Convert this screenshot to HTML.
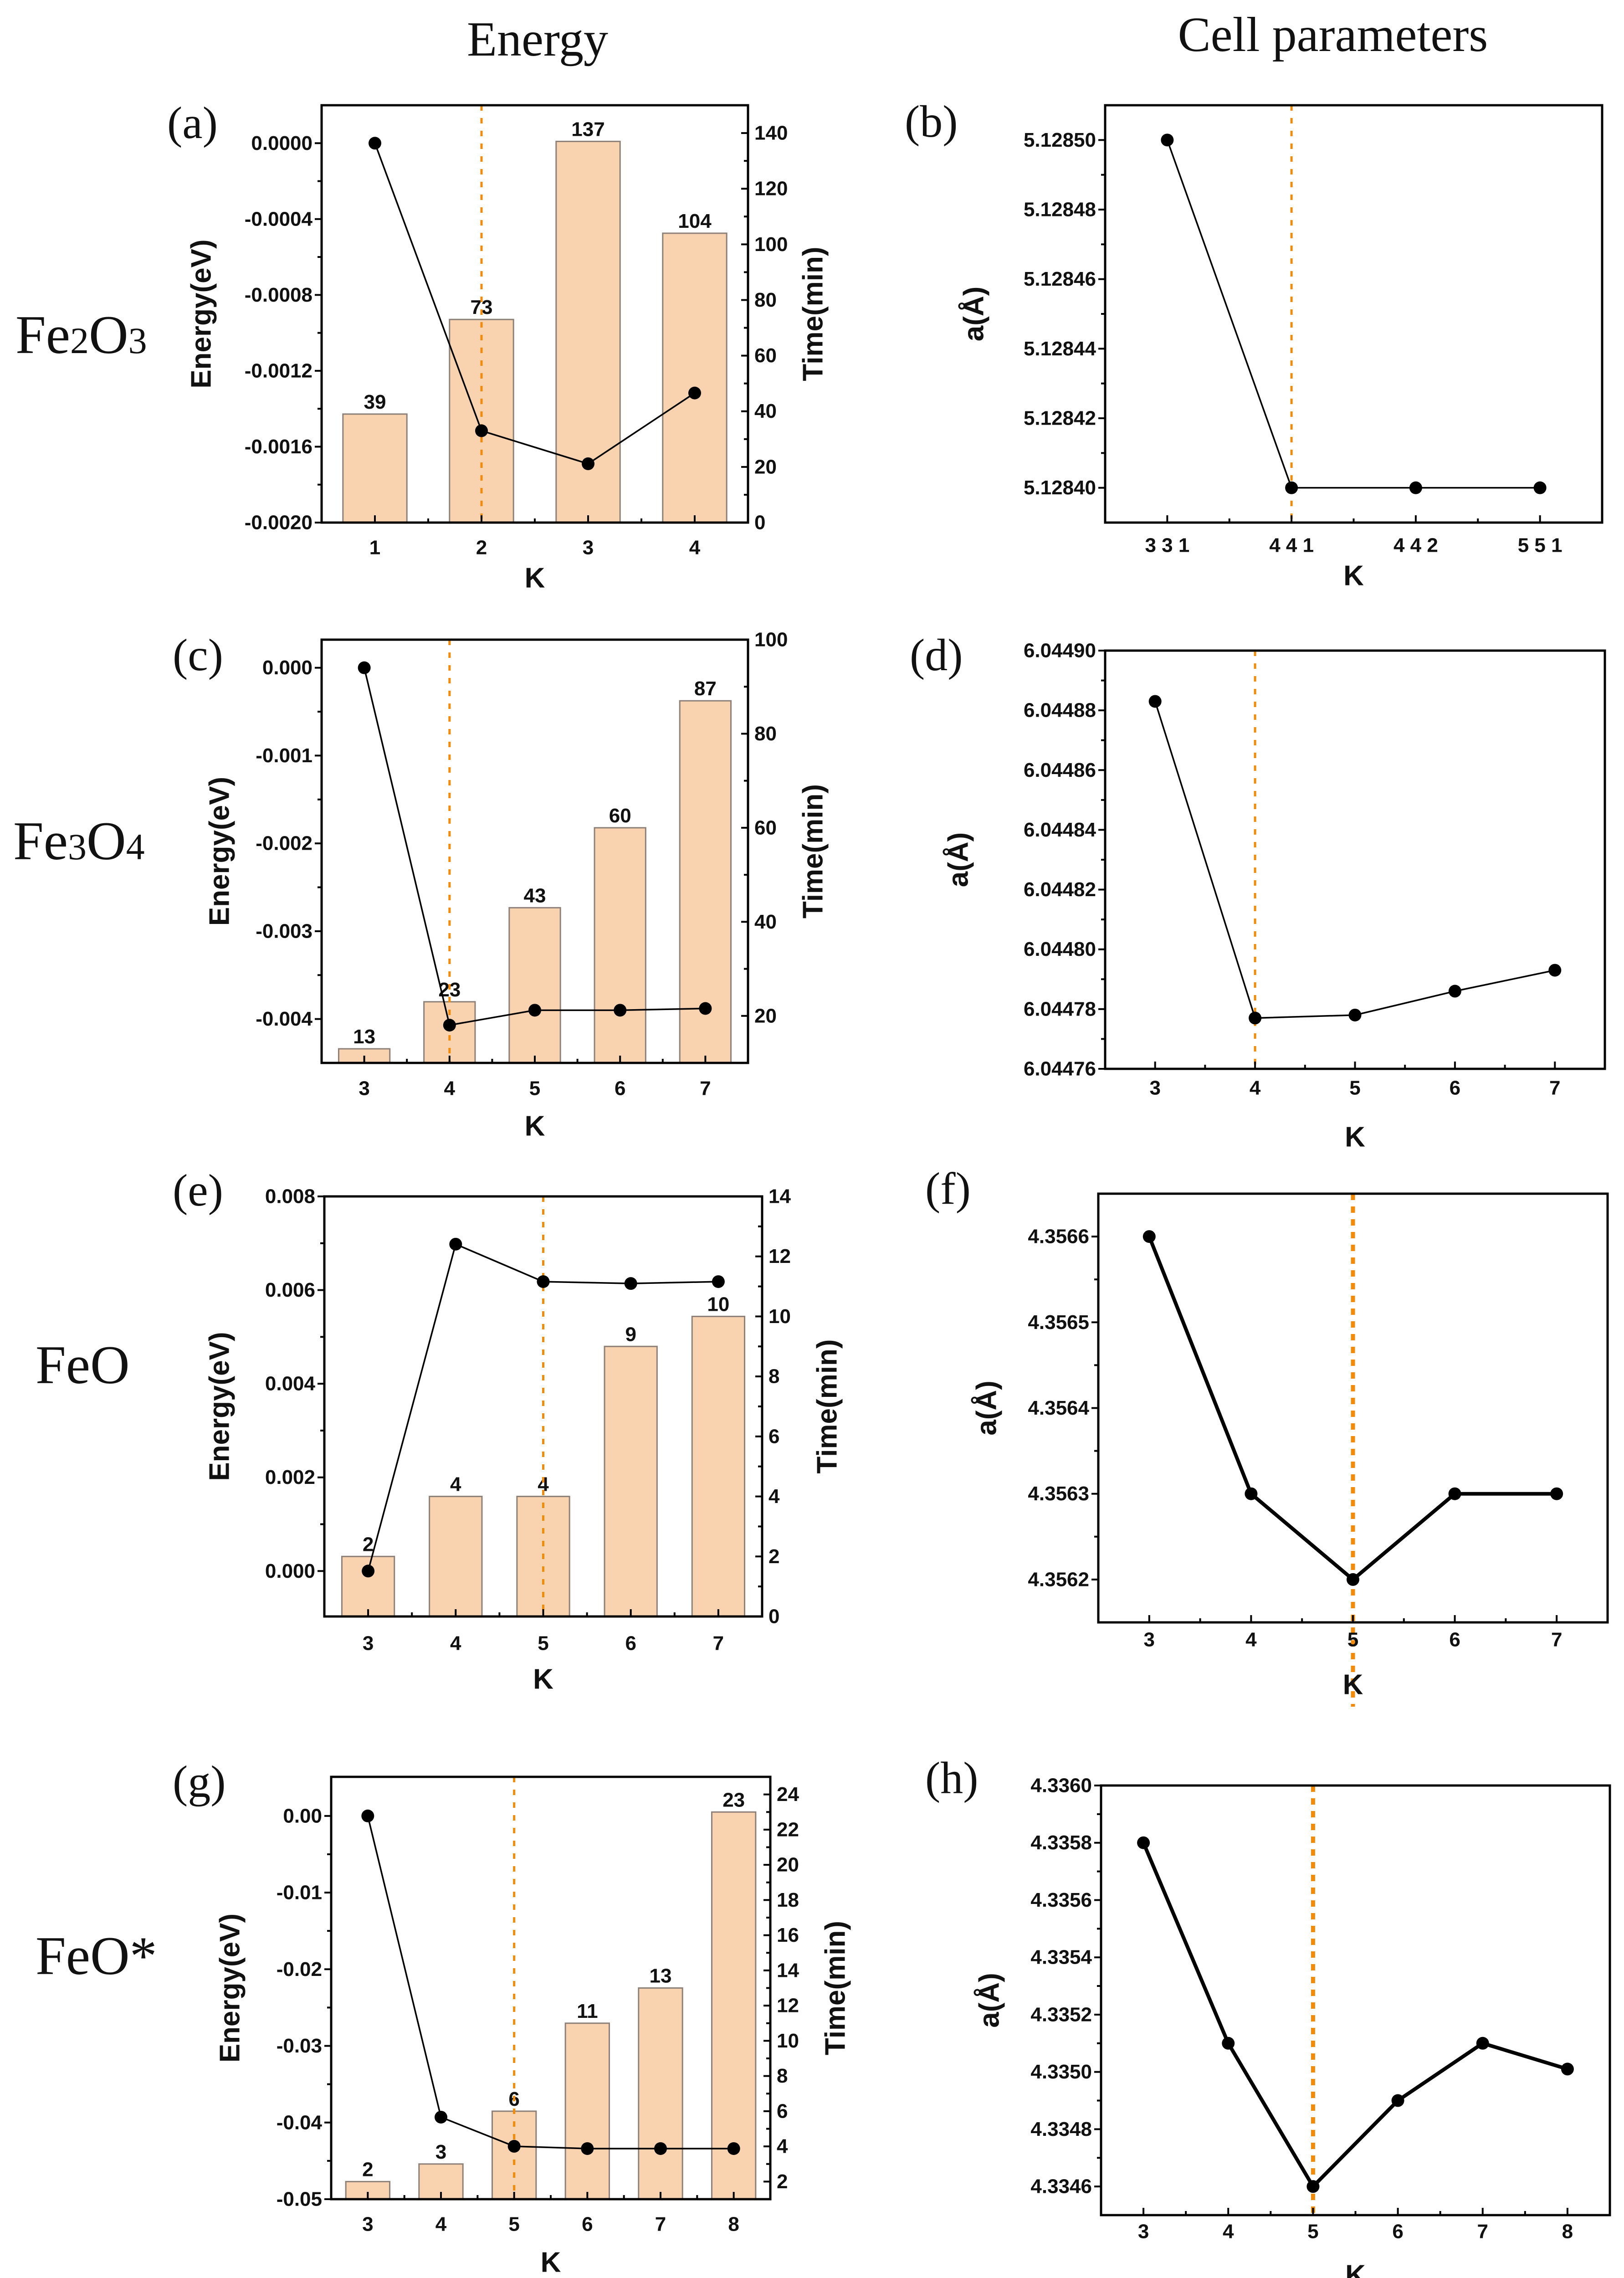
<!DOCTYPE html>
<html><head><meta charset="utf-8"><style>
html,body{margin:0;padding:0;background:#fff;width:3565px;height:5056px;overflow:hidden}
svg{display:block;overflow:hidden;position:absolute;left:0;top:0}
.tk{font-family:"Liberation Sans",sans-serif;font-weight:bold;font-size:44px;fill:#111}
.ttl{font-family:"Liberation Sans",sans-serif;font-weight:bold;font-size:62px;fill:#111}
.serif{font-family:"Liberation Serif",serif;fill:#111}
</style></head><body>
<svg id="fig" xmlns="http://www.w3.org/2000/svg" width="3565" height="5056" viewBox="0 0 3565 5056">
<text class="serif" x="1180" y="122" font-size="108" text-anchor="middle">Energy</text>
<text class="serif" x="2926" y="112" font-size="108" text-anchor="middle">Cell parameters</text>
<text class="serif" x="34" y="775" font-size="120">Fe<tspan font-size="82">2</tspan>O<tspan font-size="82">3</tspan></text>
<text class="serif" x="29" y="1886" font-size="120">Fe<tspan font-size="82">3</tspan>O<tspan font-size="82">4</tspan></text>
<text class="serif" x="78" y="3036" font-size="120">FeO</text>
<text class="serif" x="78" y="4333" font-size="120">FeO*</text>
</svg>
<script>
// ---- data ----
const catA=["1","2","3","4"];
const energyA=[0,-0.001516,-0.00169,-0.001317];
const timeA=[39,73,137,104];
const eTicksA=[0,-0.0004,-0.0008,-0.0012,-0.0016,-0.0020];
const eLabelsA=["0.0000","-0.0004","-0.0008","-0.0012","-0.0016","-0.0020"];
const tTicksA=[0,20,40,60,80,100,120,140];

const catB=["3 3 1","4 4 1","4 4 2","5 5 1"];
const cellB=[5.12850,5.12840,5.12840,5.12840];
const cTicksB=[5.12840,5.12842,5.12844,5.12846,5.12848,5.12850];
const cLabelsB=["5.12840","5.12842","5.12844","5.12846","5.12848","5.12850"];

const catC=["3","4","5","6","7"];
const energyC=[0,-0.00407,-0.00390,-0.00390,-0.00388];
const timeC=[13,23,43,60,87];
const eTicksC=[0,-0.001,-0.002,-0.003,-0.004];
const eLabelsC=["0.000","-0.001","-0.002","-0.003","-0.004"];
const tTicksC=[20,40,60,80,100];

const catD=["3","4","5","6","7"];
const cellD=[6.044883,6.044777,6.044778,6.044786,6.044793];
const cTicksD=[6.04476,6.04478,6.04480,6.04482,6.04484,6.04486,6.04488,6.04490];
const cLabelsD=["6.04476","6.04478","6.04480","6.04482","6.04484","6.04486","6.04488","6.04490"];

const catE=["3","4","5","6","7"];
const energyE=[0,0.00698,0.00618,0.00614,0.00618];
const timeE=[2,4,4,9,10];
const eTicksE=[0,0.002,0.004,0.006,0.008];
const eLabelsE=["0.000","0.002","0.004","0.006","0.008"];
const tTicksE=[0,2,4,6,8,10,12,14];

const catF=["3","4","5","6","7"];
const cellF=[4.3566,4.3563,4.3562,4.3563,4.3563];
const cTicksF=[4.3562,4.3563,4.3564,4.3565,4.3566];
const cLabelsF=["4.3562","4.3563","4.3564","4.3565","4.3566"];

const catG=["3","4","5","6","7","8"];
const energyG=[0,-0.0393,-0.0431,-0.0434,-0.0434,-0.0434];
const timeG=[2,3,6,11,13,23];
const eTicksG=[0,-0.01,-0.02,-0.03,-0.04,-0.05];
const eLabelsG=["0.00","-0.01","-0.02","-0.03","-0.04","-0.05"];
const tTicksG=[2,4,6,8,10,12,14,16,18,20,22,24];

const catH=["3","4","5","6","7","8"];
const cellH=[4.3358,4.3351,4.3346,4.3349,4.3351,4.33501];
const cTicksH=[4.3346,4.3348,4.3350,4.3352,4.3354,4.3356,4.3358,4.3360];
const cLabelsH=["4.3346","4.3348","4.3350","4.3352","4.3354","4.3356","4.3358","4.3360"];

const NS="http://www.w3.org/2000/svg";
const svg=document.getElementById('fig');
function mk(tag,attrs,parent,text){const e=document.createElementNS(NS,tag);for(const k in attrs)e.setAttribute(k,attrs[k]);if(text!==undefined)e.textContent=text;(parent||svg).appendChild(e);return e;}

function panel(p){
  const g=mk('g',{});
  
  
  const n=p.cats.length;
  const X=i=>p.x0+(i+0.5)/n*(p.x1-p.x0);
  const Y=v=>p.y1-(v-p.ymin)/(p.ymax-p.ymin)*(p.y1-p.y0);
  const T=v=>p.y1-(v-p.tmin)/(p.tmax-p.tmin)*(p.y1-p.y0);
  const step=(p.x1-p.x0)/n;
  if(p.bars){
    p.bars.forEach((b,i)=>{
      const r=mk('rect',{x:X(i)-step*0.3,y:T(b),width:step*0.6,height:p.y1-T(b),fill:'#f9d3b0',stroke:'#8c8078','stroke-width':3},g);
      
      
      const t=mk('text',{x:X(i),y:T(b)-12,'text-anchor':'middle',class:'tk'},g,String(b));
      
      
    });
  }
  const dx=X(p.dot);
  const dl=mk('line',{x1:dx,x2:dx,y1:p.y0,y2:p.dotEnd||p.y1,stroke:'#f28a0a','stroke-width':p.thick?9:5,'stroke-dasharray':p.thick?'14 14':'12 16'},g);
  
  
  const bx=mk('rect',{x:p.x0,y:p.y0,width:p.x1-p.x0,height:p.y1-p.y0,fill:'none',stroke:'#000','stroke-width':5},g);
  
  
  p.cats.forEach((c,i)=>{
    mk('line',{x1:X(i),x2:X(i),y1:p.y1,y2:p.y1-16,stroke:'#000','stroke-width':4},g);
    if(i<n-1) mk('line',{x1:X(i)+step/2,x2:X(i)+step/2,y1:p.y1,y2:p.y1-9,stroke:'#000','stroke-width':4},g);
    const t=mk('text',{x:X(i),y:p.y1+p.tkOff,'text-anchor':'middle','dominant-baseline':'central',class:'tk'},g,c);
    
    
  });
  const kl=mk('text',{x:(p.x0+p.x1)/2,y:p.y1+p.kOff,'text-anchor':'middle','dominant-baseline':'central',class:'ttl'},g,'K');
  
  
  p.yt.forEach((v,i)=>{
    const y=Y(v);
    mk('line',{x1:p.x0,x2:p.x0-15,y1:y,y2:y,stroke:'#000','stroke-width':4},g);
    if(i<p.yt.length-1){const ym=(y+Y(p.yt[i+1]))/2;mk('line',{x1:p.x0,x2:p.x0-9,y1:ym,y2:ym,stroke:'#000','stroke-width':4},g);}
    const t=mk('text',{x:p.x0-20,y:y,'text-anchor':'end','dominant-baseline':'central',class:'tk'},g,p.yl[i]);
    
    
  });
  const yc=(p.y0+p.y1)/2;
  const yt=mk('text',{x:p.ytx,y:yc,'text-anchor':'middle','dominant-baseline':'central',class:'ttl',transform:`rotate(-90 ${p.ytx} ${yc})`},g,p.ytitle);
  
  
  if(p.tt){
    p.tt.forEach((v,i)=>{
      const y=T(v);
      mk('line',{x1:p.x1,x2:p.x1-15,y1:y,y2:y,stroke:'#000','stroke-width':4},g);
      const st=p.tt[1]-p.tt[0];
      const ym=T(v+st/2);
      if(v+st/2<p.tmax) mk('line',{x1:p.x1,x2:p.x1-9,y1:ym,y2:ym,stroke:'#000','stroke-width':4},g);
      const t=mk('text',{x:p.x1+14,y:y,'dominant-baseline':'central',class:'tk','font-weight':'normal'},g,String(v));
      
      
    });
    const tx=p.x1+143;
    const tl=mk('text',{x:tx,y:yc,'text-anchor':'middle','dominant-baseline':'central',class:'ttl',transform:`rotate(-90 ${tx} ${yc})`},g,'Time(min)');
    
    
  }
  const pts=p.vals.map((v,i)=>X(i)+','+Y(v)).join(' ');
  const pl=mk('polyline',{points:pts,fill:'none',stroke:'#000','stroke-width':p.thick?8:3.5},g);
  
  
  p.vals.forEach((v,i)=>{
    const c=mk('circle',{cx:X(i),cy:Y(v),r:14,fill:'#000'},g);
    
    
  });
  const lab=mk('text',{x:p.lx,y:p.ly,class:'serif','font-size':100},g,'('+p.id+')');
  
  
}

panel({id:'a',x0:706,x1:1642,y0:231,y1:1147,cats:catA,vals:energyA,ymin:-0.002,ymax:0.0002,yt:eTicksA,yl:eLabelsA,bars:timeA,tmin:0,tmax:150,tt:tTicksA,dot:1,ytitle:'Energy(eV)',ytx:442,tkOff:55,kOff:122,lx:367,ly:303});
panel({id:'b',x0:2426,x1:3517,y0:231,y1:1147,cats:catB,vals:cellB,ymin:5.12839,ymax:5.12851,yt:cTicksB,yl:cLabelsB,dot:1,ytitle:'a(Å)',ytx:2138,tkOff:50,kOff:117,lx:1986,ly:300});
panel({id:'c',x0:706,x1:1642,y0:1404,y1:2333,cats:catC,vals:energyC,ymin:-0.0045,ymax:0.00032,yt:eTicksC,yl:eLabelsC,bars:timeC,tmin:10,tmax:100,tt:tTicksC,dot:1,ytitle:'Energy(eV)',ytx:482,tkOff:56,kOff:139,lx:379,ly:1471});
panel({id:'d',x0:2426,x1:3523,y0:1428,y1:2346,cats:catD,vals:cellD,ymin:6.04476,ymax:6.04490,yt:cTicksD,yl:cLabelsD,dot:1,ytitle:'a(Å)',ytx:2104,tkOff:42,kOff:150,lx:1997,ly:1471});
panel({id:'e',x0:712,x1:1673,y0:2626,y1:3548,cats:catE,vals:energyE,ymin:-0.00097,ymax:0.008,yt:eTicksE,yl:eLabelsE,bars:timeE,tmin:0,tmax:14,tt:tTicksE,dot:2,ytitle:'Energy(eV)',ytx:482,tkOff:59,kOff:138,lx:379,ly:2646});
panel({id:'f',x0:2411,x1:3529,y0:2620,y1:3561,cats:catF,vals:cellF,ymin:4.35615,ymax:4.35665,yt:cTicksF,yl:cLabelsF,dot:2,dotEnd:3746,thick:true,ytitle:'a(Å)',ytx:2166,tkOff:38,kOff:137,lx:2031,ly:2642});
panel({id:'g',x0:727,x1:1691,y0:3900,y1:4827,cats:catG,vals:energyG,ymin:-0.05,ymax:0.0051,yt:eTicksG,yl:eLabelsG,bars:timeG,tmin:1,tmax:25,tt:tTicksG,dot:2,ytitle:'Energy(eV)',ytx:505,tkOff:55,kOff:139,lx:379,ly:3944});
panel({id:'h',x0:2417,x1:3534,y0:3919,y1:4862,cats:catH,vals:cellH,ymin:4.3345,ymax:4.3360,yt:cTicksH,yl:cLabelsH,dot:2,thick:true,ytitle:'a(Å)',ytx:2172,tkOff:36,kOff:132,lx:2031,ly:3936});
</script>
</body></html>
